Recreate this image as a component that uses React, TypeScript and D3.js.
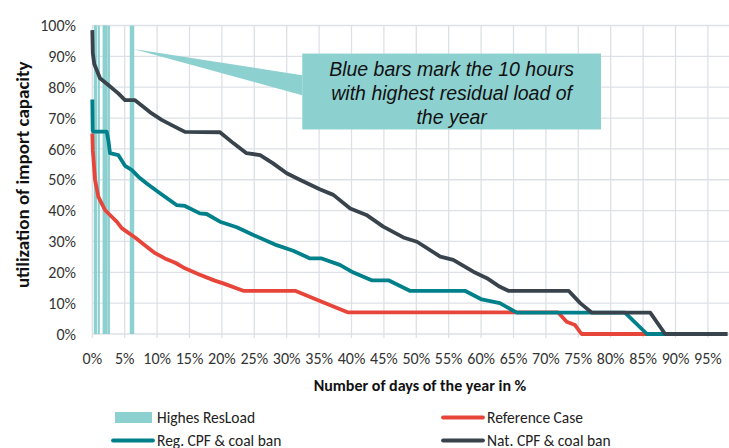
import React from "react";
import * as d3 from "d3";

// ---------- data ----------
const xTicks = d3.range(0, 100, 5); // 0%..95%
const yTicks = d3.range(0, 101, 10); // 0%..100%

// positions (in % of year) of the 10 hours with highest residual load
const highResLoadHours = [0.4, 0.55, 1.0, 1.75, 1.9, 2.05, 2.2, 2.55, 5.95, 6.3];

// Reference Case: [share of year %, utilization %]
const referenceCase: [number, number][] = [
  [0, 65], [0.08, 59.6], [0.42, 50], [0.93, 44.5], [1.19, 43.4], [1.96, 40.2],
  [3.0, 38], [3.77, 36.4], [4.54, 34.3], [5.3, 33.2], [6.6, 31.3], [8.1, 28.8],
  [9.7, 26.2], [11.2, 24.5], [12.8, 23.1], [14.3, 21.3], [16.4, 19.4], [18.9, 17.3],
  [20.2, 16.4], [23.3, 14.0], [31.3, 14.0], [34.1, 11.6], [37.2, 8.9], [39.5, 7.0],
  [71.9, 7.0], [73.2, 4.0], [74.5, 2.9], [75.5, 0], [98, 0],
];

// Reg. CPF & coal ban
const regCpf: [number, number][] = [
  [0, 76], [0.06, 66], [0.12, 65.6], [2.22, 65.6], [2.5, 62.5], [2.73, 58.6],
  [4.01, 58], [5.05, 54.5], [6.08, 53.2], [7.1, 51.0], [8.4, 48.8], [10.45, 45.6],
  [13.0, 41.8], [14.3, 41.5], [16.6, 39.1], [17.65, 38.9], [19.7, 36.4], [22.3, 34.6],
  [24.85, 32.1], [28.45, 28.8], [31.0, 27.0], [33.6, 24.5], [35.4, 24.5], [38.2, 22.4],
  [40.3, 19.9], [43.1, 17.4], [45.7, 17.4], [49.0, 14.0], [57.5, 14.0], [60.1, 11.2],
  [62.9, 10.0], [65.5, 6.9], [82.2, 6.9], [85.6, 0], [98, 0],
];

// Nat. CPF & coal ban
const natCpf: [number, number][] = [
  [0, 98.5], [0.08, 91], [0.3, 87.5], [0.68, 85.6], [1.19, 82.9], [2.47, 80.7],
  [4.01, 78.0], [5.05, 75.8], [6.59, 75.8], [7.87, 73.7], [9.17, 71.5], [10.7, 69.4],
  [12.25, 67.7], [14.3, 65.5], [19.7, 65.4], [21.8, 61.8], [23.8, 58.6], [25.9, 58.0],
  [27.9, 55.3], [30.0, 52.1], [32.1, 49.9], [35.1, 46.9], [37.2, 45.1], [39.8, 40.7],
  [42.3, 38.6], [44.9, 34.8], [48.0, 31.3], [50.1, 29.9], [53.7, 25.1], [55.7, 24.0],
  [58.8, 20.2], [60.9, 18.1], [62.9, 15.3], [64.2, 14.0], [73.5, 14.0], [75.3, 10.0],
  [77.1, 6.9], [86.1, 6.9], [88.4, 0], [98, 0],
];

const calloutLines = [
  "Blue bars mark the 10 hours",
  "with highest residual load of",
  "the year",
];

const legendItems = [
  { label: "Highes ResLoad", kind: "rect", color: "#8dd0d0" },
  { label: "Reference Case", kind: "line", color: "#e8453a" },
  { label: "Reg. CPF & coal ban", kind: "line", color: "#00808a" },
  { label: "Nat. CPF & coal ban", kind: "line", color: "#38434c" },
];

// ---------- styling ----------
const W = 729;
const H = 448;
const left = 92.3;
const step5 = 32.4;
const FONT = "Carlito, Calibri, Lato, 'Open Sans', sans-serif";
const BAR = "#8dd0d0";
const GRID = "#dde1e6";

export default function App() {
  const x = d3.scaleLinear().domain([0, 100]).range([left, left + 20 * step5]);
  const y = d3.scaleLinear().domain([0, 100]).range([334, 25.5]);
  const line = d3
    .line<[number, number]>()
    .x((d) => x(d[0]))
    .y((d) => y(d[1]));

  const series = [
    { data: referenceCase, color: legendItems[1].color },
    { data: regCpf, color: legendItems[2].color },
    { data: natCpf, color: legendItems[3].color },
  ];

  // callout in data coordinates
  const tip: [number, number] = [6.35, 92.4];
  const boxX0 = 32.4, boxX1 = 78.5, boxY0 = 90.9, boxY1 = 66.3;
  const cx = (x(boxX0) + x(boxX1)) / 2;

  const legendPos = [
    { lx: 113, ly: 417.5 },
    { lx: 443, ly: 417.5 },
    { lx: 113, ly: 440.5 },
    { lx: 443, ly: 440.5 },
  ];

  return (
    <div style={{ position: "absolute", left: 0, top: 0 }}>
      <svg width={W} height={H} style={{ display: "block", background: "#fff" }}>
        {/* grid */}
        {yTicks.map((t) => (
          <line key={"h" + t} x1={left} x2={W} y1={y(t)} y2={y(t)} stroke={GRID} strokeWidth={1.3} />
        ))}
        {xTicks.map((t) => (
          <line key={"v" + t} x1={x(t)} x2={x(t)} y1={y(100)} y2={y(0) + 4} stroke={GRID} strokeWidth={1.3} />
        ))}

        {/* highest residual load bars */}
        {highResLoadHours.map((h, i) => (
          <rect key={"b" + i} x={x(h) - 1.1} width={2.2} y={y(100)} height={y(0) - y(100)} fill={BAR} />
        ))}

        {/* lines */}
        {series.map((s, i) => (
          <path key={"s" + i} d={line(s.data) || ""} fill="none" stroke={s.color} strokeWidth={3.8} strokeLinejoin="round" />
        ))}

        {/* callout */}
        <polygon
          points={`${x(tip[0])},${y(tip[1])} ${x(boxX0)},${y(83.9)} ${x(boxX0)},${y(77.4)}`}
          fill={BAR}
        />
        <rect x={x(boxX0)} y={y(boxY0)} width={x(boxX1) - x(boxX0)} height={y(boxY1) - y(boxY0)} fill={BAR} />
        {calloutLines.map((t, i) => (
          <text
            key={"c" + i}
            x={cx}
            y={y(boxY0) + 22 + i * 24.3}
            textAnchor="middle"
            fontFamily="'Liberation Sans', Arial, sans-serif"
            fontStyle="italic"
            fontSize={19.5}
            fill="#111"
          >
            {t}
          </text>
        ))}

        {/* y tick labels */}
        {yTicks.map((t) => (
          <text key={"yl" + t} x={76} y={y(t)} dy="0.35em" textAnchor="end" fontFamily={FONT} fontSize={16} fill="#333">
            {t}%
          </text>
        ))}
        {/* x tick labels */}
        {xTicks.map((t) => (
          <text key={"xl" + t} x={x(t)} y={364} textAnchor="middle" fontFamily={FONT} fontSize={16} fill="#333">
            {t}%
          </text>
        ))}

        {/* axis titles */}
        <text
          transform={`translate(22,${(y(0) + y(100)) / 2 - 5}) rotate(-90)`}
          textAnchor="middle"
          dy="0.35em"
          fontFamily={FONT}
          fontWeight="bold"
          fontSize={19}
          fill="#111"
        >
          utilization of import capacity
        </text>
        <text x={420} y={391} textAnchor="middle" fontFamily={FONT} fontWeight="bold" fontSize={16} fill="#111">
          Number of days of the year in %
        </text>

        {/* legend */}
        {legendItems.map((it, i) => {
          const p = legendPos[i];
          return (
            <g key={"lg" + i}>
              {it.kind === "rect" ? (
                <rect x={p.lx + 2} y={p.ly - 5.5} width={37} height={11} fill={it.color} />
              ) : (
                <line x1={p.lx} x2={p.lx + 40} y1={p.ly} y2={p.ly} stroke={it.color} strokeWidth={3.8} strokeLinecap="round" />
              )}
              <text x={p.lx + 44} y={p.ly} dy="0.35em" fontFamily={FONT} fontSize={15.5} fill="#222">
                {it.label}
              </text>
            </g>
          );
        })}
      </svg>
    </div>
  );
}
